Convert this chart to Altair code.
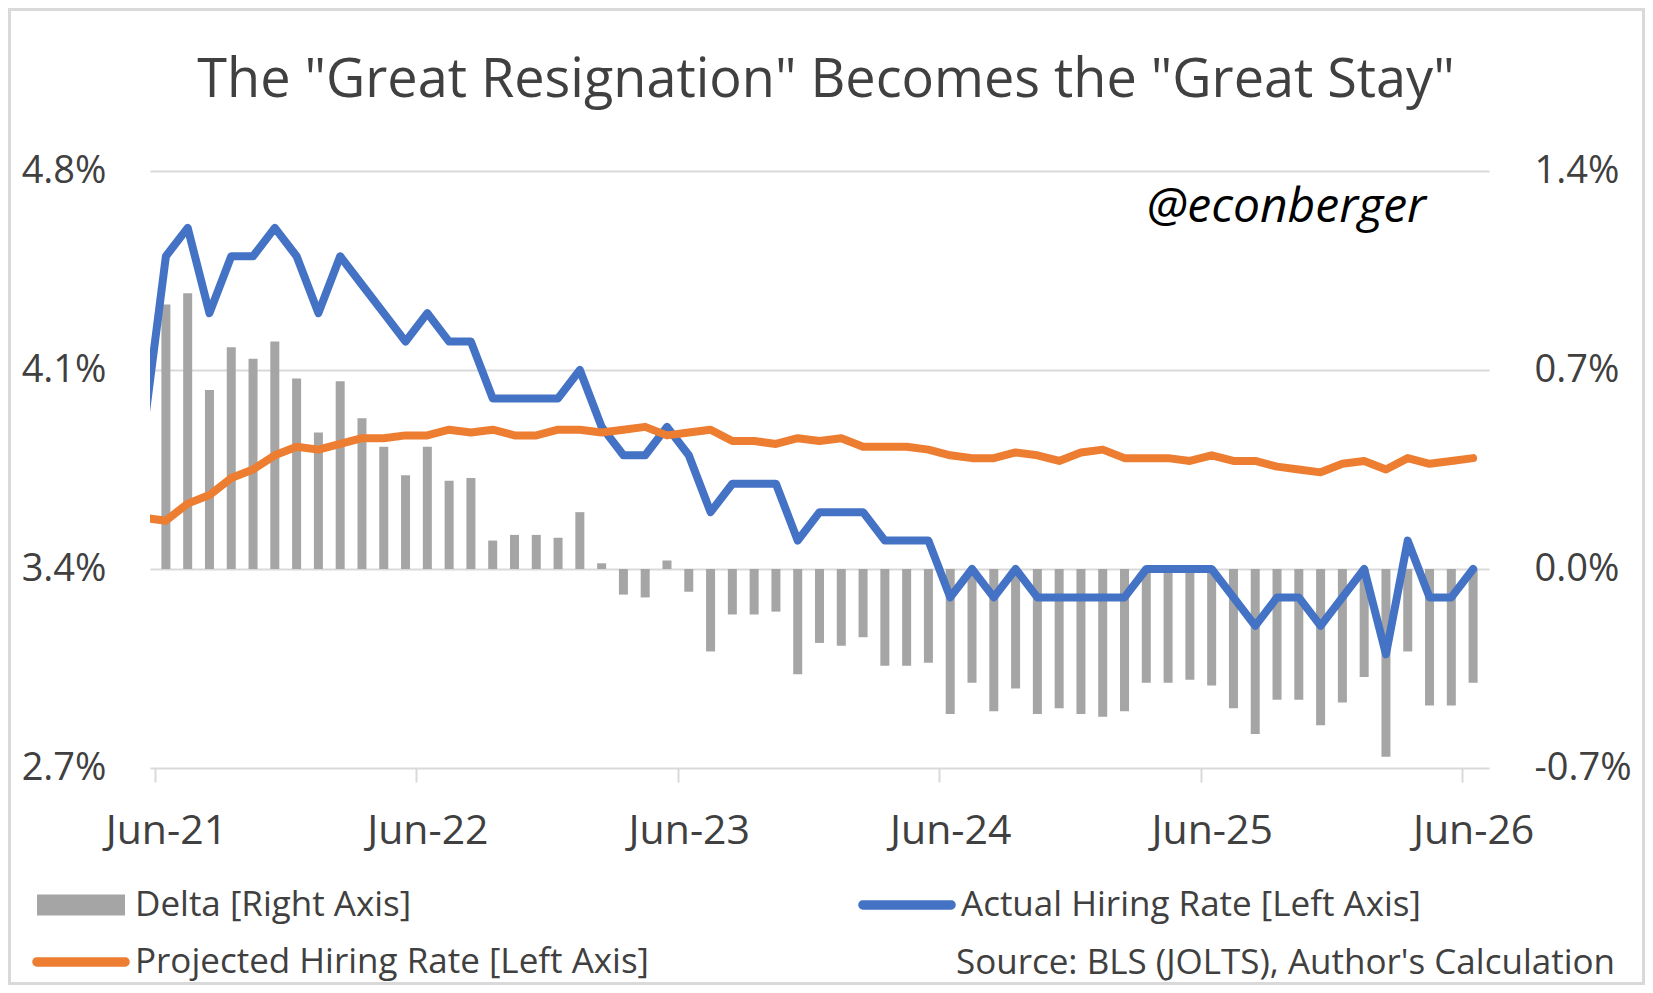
import pandas as pd
import altair as alt

# monthly categories, May-21 .. Jun-26 (the first month sits left of the axis and is clipped)
months = list(pd.date_range("2021-05-01", "2026-06-01", freq="MS").strftime("%b-%y"))

actual = [3.9,
          4.5, 4.6, 4.3, 4.5, 4.5, 4.6, 4.5, 4.3, 4.5, 4.4, 4.3, 4.2,
          4.3, 4.2, 4.2, 4.0, 4.0, 4.0, 4.0, 4.1, 3.9, 3.8, 3.8, 3.9,
          3.8, 3.6, 3.7, 3.7, 3.7, 3.5, 3.6, 3.6, 3.6, 3.5, 3.5, 3.5,
          3.3, 3.4, 3.3, 3.4, 3.3, 3.3, 3.3, 3.3, 3.3, 3.4, 3.4, 3.4,
          3.4, 3.3, 3.2, 3.3, 3.3, 3.2, 3.3, 3.4, 3.1, 3.5, 3.3, 3.3,
          3.4]

projected = [3.58,
             3.57, 3.63, 3.66, 3.72, 3.75, 3.80, 3.83, 3.82, 3.84, 3.86, 3.86, 3.87,
             3.87, 3.89, 3.88, 3.89, 3.87, 3.87, 3.89, 3.89, 3.88, 3.89, 3.90, 3.87,
             3.88, 3.89, 3.85, 3.85, 3.84, 3.86, 3.85, 3.86, 3.83, 3.83, 3.83, 3.82,
             3.80, 3.79, 3.79, 3.81, 3.80, 3.78, 3.81, 3.82, 3.79, 3.79, 3.79, 3.78,
             3.80, 3.78, 3.78, 3.76, 3.75, 3.74, 3.77, 3.78, 3.75, 3.79, 3.77, 3.78,
             3.79]

# Jun-21 .. Jun-26
delta = [0.93, 0.97, 0.63, 0.78, 0.74, 0.80, 0.67, 0.48, 0.66, 0.53, 0.43, 0.33,
         0.43, 0.31, 0.32, 0.10, 0.12, 0.12, 0.11, 0.20, 0.02, -0.09, -0.10, 0.03,
         -0.08, -0.29, -0.16, -0.16, -0.15, -0.37, -0.26, -0.27, -0.24, -0.34, -0.34, -0.33,
         -0.51, -0.40, -0.50, -0.42, -0.51, -0.49, -0.51, -0.52, -0.50, -0.40, -0.40, -0.39,
         -0.41, -0.49, -0.58, -0.46, -0.46, -0.55, -0.47, -0.38, -0.66, -0.29, -0.48, -0.48,
         -0.40]

x_labels = ["Jun-21", "Jun-22", "Jun-23", "Jun-24", "Jun-25", "Jun-26"]
left_ticks = [2.7, 3.4, 4.1, 4.8]
left_labels = ["2.7%", "3.4%", "4.1%", "4.8%"]
right_ticks = [-0.7, 0.0, 0.7, 1.4]
right_labels = ["-0.7%", "0.0%", "0.7%", "1.4%"]

DELTA = "Delta [Right Axis]"
ACTUAL = "Actual Hiring Rate [Left Axis]"
PROJ = "Projected Hiring Rate [Left Axis]"

FONT = "Open Sans"
TEXT = "#404040"
GRID = "#D9D9D9"
GREY, BLUE, ORANGE = "#A5A5A5", "#4472C4", "#ED7D31"

lines_df = pd.DataFrame({"month": months, "actual": actual, "projected": projected})
lines_df["m"] = range(-1, len(months) - 1)
lines_df["s_actual"] = ACTUAL
lines_df["s_proj"] = PROJ

bars_df = pd.DataFrame({"month": months[1:], "delta": delta})
bars_df["m"] = range(len(delta))
bars_df["series"] = DELTA

xscale = alt.Scale(domain=[-0.5, 60.5], nice=False, zero=False)


def arr(lst):
    return "[" + ",".join("'%s'" % s for s in lst) + "]"


capsule = ("M-0.905,-0.095H0.905A0.095,0.095 0 0 1 0.905,0.095"
           "H-0.905A0.095,0.095 0 0 1 -0.905,-0.095Z")

legend_common = dict(title=None, orient="none", padding=0, labelFont=FONT,
                     labelFontSize=35, labelColor=TEXT, labelLimit=1000)

bars = (alt.Chart(bars_df)
        .mark_bar(size=9)
        .encode(
            x=alt.X("m:Q", scale=xscale,
                    axis=alt.Axis(orient="bottom", values=[0, 12, 24, 36, 48, 60],
                                  labelExpr=arr(x_labels) + "[round(datum.value / 12)]",
                                  ticks=False, domain=False, grid=False,
                                  labelPadding=75, labelBaseline="alphabetic",
                                  labelFont=FONT, labelFontSize=41, labelColor=TEXT,
                                  labelFlush=False, title=None)),
            y=alt.Y("delta:Q", scale=alt.Scale(domain=[-0.7, 1.4], nice=False),
                    axis=alt.Axis(orient="right", values=right_ticks,
                                  labelExpr=arr(right_labels) + "[round((datum.value + 0.7) / 0.7)]",
                                  grid=False, ticks=False, tickSize=0, domain=False,
                                  labelPadding=45, labelAlign="left",
                                  labelFont=FONT, labelFontSize=38, labelColor=TEXT,
                                  title=None)),
            fill=alt.Fill("series:N", scale=alt.Scale(domain=[DELTA], range=[GREY]),
                          legend=alt.Legend(legendX=-113, legendY=690,
                                            symbolType="M-1,-0.24H1V0.24H-1Z",
                                            symbolSize=7744, symbolStrokeWidth=0,
                                            labelOffset=10, **legend_common))
        ))

actual_line = (alt.Chart(lines_df)
               .mark_line(strokeWidth=8, strokeCap="round", strokeJoin="round", clip=True)
               .encode(
                   x=alt.X("m:Q", scale=xscale,
                           axis=alt.Axis(orient="bottom",
                                         values=[-0.5, 11.5, 23.5, 35.5, 47.5, 59.5],
                                         labels=False, ticks=True, tickSize=14,
                                         tickWidth=2, tickColor=GRID,
                                         domain=False, grid=False, title=None)),
                   y=alt.Y("actual:Q", scale=alt.Scale(domain=[2.7, 4.8], nice=False, zero=False),
                           axis=alt.Axis(orient="left", values=left_ticks,
                                         labelExpr=arr(left_labels) + "[round((datum.value - 2.7) / 0.7)]",
                                         grid=True, gridColor=GRID, gridWidth=2,
                                         ticks=False, tickSize=0, domain=False,
                                         labelPadding=44, labelFont=FONT,
                                         labelFontSize=38, labelColor=TEXT, title=None)),
                   stroke=alt.Stroke("s_actual:N", scale=alt.Scale(domain=[ACTUAL], range=[BLUE]),
                                     legend=alt.Legend(legendX=708, legendY=685,
                                                       symbolType=capsule, symbolSize=9506,
                                                       symbolStrokeWidth=0,
                                                       symbolFillColor=BLUE,
                                                       labelOffset=5, **legend_common))
               ))

proj_line = (alt.Chart(lines_df)
             .mark_line(strokeWidth=8, strokeCap="round", strokeJoin="round", clip=True)
             .encode(
                 x=alt.X("m:Q", scale=xscale, axis=None),
                 y=alt.Y("projected:Q", scale=alt.Scale(domain=[2.7, 4.8], nice=False, zero=False),
                         axis=None),
                 stroke=alt.Stroke("s_proj:N", scale=alt.Scale(domain=[PROJ], range=[ORANGE]),
                                   legend=alt.Legend(legendX=-118, legendY=742,
                                                     symbolType=capsule, symbolSize=9506,
                                                     symbolStrokeWidth=0,
                                                     symbolFillColor=ORANGE,
                                                     labelOffset=5, **legend_common))
             ))

handle = (alt.Chart(pd.DataFrame({"t": ["@econberger"]}))
          .mark_text(font=FONT, fontSize=48, fontStyle="italic", color="#000000",
                     align="right", baseline="middle")
          .encode(x=alt.value(1276), y=alt.value(37), text="t:N"))

source = (alt.Chart(pd.DataFrame({"t": ["Source: BLS (JOLTS), Author's Calculation"]}))
          .mark_text(font=FONT, fontSize=35, color=TEXT, align="right", baseline="middle")
          .encode(x=alt.value(1465), y=alt.value(792), text="t:N"))

border = (alt.Chart(pd.DataFrame({"b": [1]}))
          .mark_rect(fillOpacity=0, stroke=GRID, strokeWidth=3)
          .encode(x=alt.value(-140.5), x2=alt.value(1493.5),
                  y=alt.value(-161.5), y2=alt.value(812.5)))

chart = (alt.layer(border, bars, actual_line, proj_line, handle, source)
         .resolve_scale(y="independent", fill="independent", stroke="independent")
         .resolve_axis(x="independent", y="independent")
         .resolve_legend(fill="independent", stroke="independent")
         .properties(
             width=1339, height=597,
             padding={"left": 142, "top": 163, "right": 156, "bottom": 217},
             autosize=alt.AutoSizeParams(type="none"),
             title=alt.TitleParams(text='The "Great Resignation" Becomes the "Great Stay"',
                                   font=FONT, fontSize=54, fontWeight="normal", color=TEXT,
                                   anchor="middle", baseline="alphabetic",
                                   offset=-143, dx=6.5))
         .configure_view(stroke=None))

chart.save("out.html", embed_options={"renderer": "svg", "actions": False})
